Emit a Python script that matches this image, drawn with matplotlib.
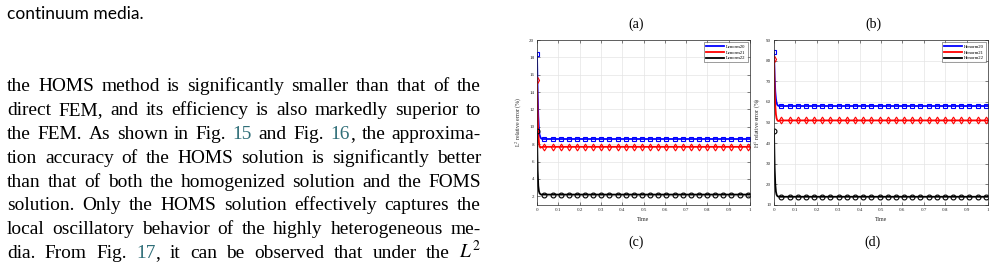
import matplotlib

matplotlib.use("Agg")
import matplotlib.pyplot as plt
from matplotlib.lines import Line2D

plt.rcParams["mathtext.fontset"] = "stix"

W, H = 995, 267
SERIF = "Liberation Serif"
TEAL = "#2f6e78"

# early transient, then plateau sampled at the marker times
t_early = [0, 0.003, 0.006, 0.009, 0.012, 0.016, 0.020, 0.025, 0.030]
t_mark = [0.035, 0.073, 0.111, 0.149, 0.188, 0.226, 0.264, 0.302, 0.340, 0.378,
          0.417, 0.455, 0.493, 0.531, 0.569, 0.607, 0.646, 0.684, 0.722, 0.760,
          0.798, 0.836, 0.875, 0.913, 0.951, 0.990]

l2_names = ["Lenorm20", "Lenorm21", "Lenorm22"]
l2_early = [
    [18.4, 14.0, 11.2, 9.8, 9.1, 8.8, 8.65, 8.6, 8.6],
    [15.4, 11.5, 9.2, 8.2, 7.75, 7.6, 7.65, 7.7, 7.7],
    [9.5, 5.0, 3.2, 2.6, 2.35, 2.25, 2.2, 2.2, 2.2],
]
l2_plateau = [8.6, 7.7, 2.2]

h1_names = ["Henorm20", "Henorm21", "Henorm22"]
h1_early = [
    [84.0, 72.0, 65.0, 61.5, 59.5, 58.5, 58.1, 58.0, 58.0],
    [81.0, 66.0, 58.0, 54.0, 52.0, 51.0, 50.7, 50.9, 51.0],
    [46.0, 28.0, 20.0, 16.5, 15.0, 14.3, 14.1, 14.0, 14.0],
]
h1_plateau = [58.0, 51.0, 14.0]

colors = ["#0000ff", "#ff0000", "#000000"]
markers = ["s", "d", "o"]

body = [
    "the HOMS method is significantly smaller than that of the",
    "direct FEM, and its efficiency is also markedly superior to",
    "the FEM. As shown in Fig. #15 and Fig. #16, the approxima-",
    "tion accuracy of the HOMS solution is significantly better",
    "than that of both the homogenized solution and the FOMS",
    "solution. Only the HOMS solution effectively captures the",
    "local oscillatory behavior of the highly heterogeneous me-",
    "dia. From Fig. #17, it can be observed that under the $L^2$",
]

fig = plt.figure(figsize=(W / 100, H / 100), dpi=100)
renderer = fig.canvas.get_renderer()


def fx(px):
    return px / W


def fy(py):
    return 1 - py / H


def make_axes(left, right, ylim, yticks, ylabel, names, early, plateau, lab_x):
    ax = fig.add_axes([fx(left), fy(205), (right - left) / W, (205 - 40) / H])
    t = t_early + t_mark + [1.0]
    every = [0] + list(range(len(t_early), len(t_early) + len(t_mark)))
    for vals, lvl, c, m in zip(early, plateau, colors, markers):
        y = vals + [lvl] * (len(t_mark) + 1)
        ax.plot(t, y, color=c, lw=1.3, marker=m, markevery=every, ms=3.5,
                mfc="none", mec=c, mew=0.8)
    ax.set_xlim(0, 1)
    ax.set_ylim(*ylim)
    ax.set_xticks([i / 10 for i in range(11)])
    ax.set_xticklabels(["0"] + [f"{i / 10:.1f}" for i in range(1, 10)] + ["1"])
    ax.set_yticks(yticks)
    ax.grid(True, color="#e4e4e4", lw=0.5)
    ax.set_axisbelow(True)
    ax.tick_params(direction="in", length=2, width=0.4, labelsize=3.6, pad=2,
                   colors="#262626", top=True, right=True)
    for s in ax.spines.values():
        s.set_linewidth(0.5)
        s.set_color("#262626")
    for lb in ax.get_xticklabels() + ax.get_yticklabels():
        lb.set_family(SERIF)
    ax.set_xlabel("Time", family=SERIF, fontsize=4.2, color="#262626")
    ax.xaxis.set_label_coords(0.5, -0.075)
    ax.set_ylabel(ylabel, family=SERIF, fontsize=4.2, color="#262626")
    ax.yaxis.set_label_coords(lab_x, 0.5)
    handles = [Line2D([], [], color=c, lw=1.3) for c in colors]
    leg = ax.legend(handles, names, loc="upper right",
                    prop={"family": SERIF, "size": 3.4},
                    fancybox=False, edgecolor="#262626", handlelength=3.8,
                    borderpad=0.45, labelspacing=0.3, handletextpad=0.4,
                    borderaxespad=0.5)
    leg.get_frame().set_linewidth(0.4)
    return ax


make_axes(537, 750, (1, 20), list(range(2, 21, 2)), "L$^2$ relative error (%)",
          l2_names, l2_early, l2_plateau, -0.06)
make_axes(774, 988, (10, 90), list(range(10, 91, 10)), "H$^1$ relative error (%)",
          h1_names, h1_early, h1_plateau, -0.052)

# sub-figure tags
for lab, x, y in [("(a)", 636, 24), ("(b)", 873, 24), ("(c)", 636, 242), ("(d)", 873, 242)]:
    fig.text(fx(x), fy(y), lab, family=SERIF, fontsize=10, ha="center", va="center")
for x in [645, 882]:
    fig.text(fx(x), fy(-1), "Time", family=SERIF, fontsize=4.2, ha="center",
             va="center", color="#262626")

fig.text(fx(7), fy(14), "continuum media.", family="Lato", fontsize=12.5, va="center")

# justified body text; font size calibrated on the first line, TeX-like wider spaces
x0, x1 = 7, 481
probe = fig.text(0, 0, body[0], family=SERIF, fontsize=10)
fs = 0.955 * 10 * (x1 - x0) / probe.get_window_extent(renderer).width
probe.remove()

for i, line in enumerate(body):
    y = 91 + 23.9 * i
    words = line.split(" ")
    pieces = []
    widths = []
    for w in words:
        parts = []
        if w.startswith("#"):
            parts.append((w[1:].rstrip(","), TEAL))
            if w.endswith(","):
                parts.append((",", "black"))
        else:
            parts.append((w, "black"))
        objs = []
        ww = 0
        for txt, col in parts:
            tobj = fig.text(0, fy(y), txt, family=SERIF, fontsize=fs, color=col,
                            va="baseline")
            wpx = tobj.get_window_extent(renderer).width
            objs.append((tobj, wpx))
            ww += wpx
        pieces.append(objs)
        widths.append(ww)
    gap = (x1 - x0 - sum(widths)) / (len(words) - 1)
    x = x0
    for objs, ww in zip(pieces, widths):
        xx = x
        for tobj, wpx in objs:
            tobj.set_x(fx(xx))
            xx += wpx
        x += ww + gap

fig.savefig("out.png", dpi=100)
